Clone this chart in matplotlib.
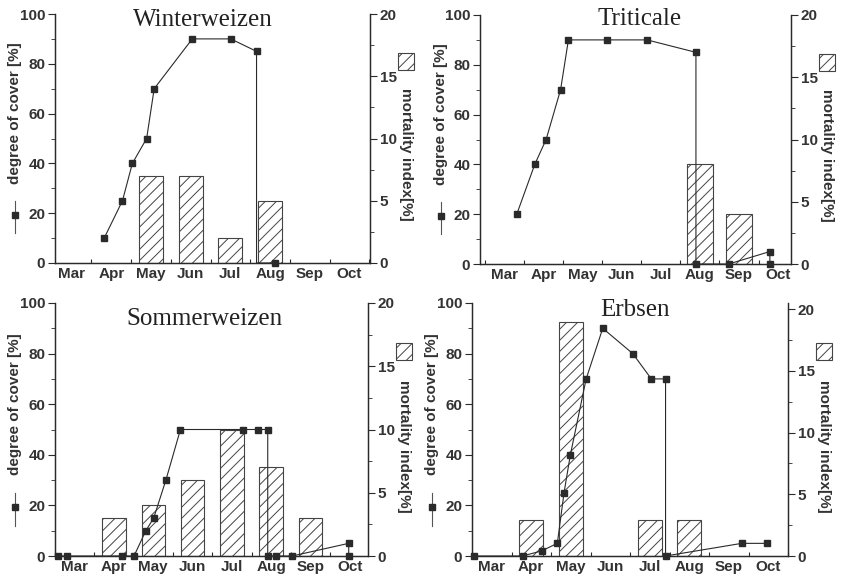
import matplotlib
matplotlib.use('Agg')
import matplotlib.pyplot as plt
from matplotlib.patches import Rectangle
from matplotlib.lines import Line2D
from matplotlib.ticker import MultipleLocator, FixedLocator, NullFormatter

plt.rcParams['hatch.linewidth'] = 0.7

months = ['Mar', 'Apr', 'May', 'Jun', 'Jul', 'Aug', 'Sep', 'Oct']

# degree of cover (line), x in month units (Mar = 0..1)
ww_x = [1.32, 1.78, 2.03, 2.39, 2.58, 3.54, 4.51, 5.16, 5.16, 5.63]
ww_y = [10, 25, 40, 50, 70, 90, 90, 85, 0, 0]
ww_bar_m = [2, 3, 4, 5]
ww_bar_v = [7, 7, 2, 5]

tr_x = [0.82, 1.28, 1.57, 1.94, 2.14, 3.13, 4.15, 5.4, 5.4, 6.24, 7.29, 7.29]
tr_y = [20, 40, 50, 70, 90, 90, 90, 85, 0, 0, 5, 0]
tr_bar_m = [5, 6]
tr_bar_v = [8, 4]

sw_x = [0.07, 0.3, 1.7, 2.01, 2.31, 2.51, 2.82, 3.19, 4.79, 5.17, 5.41, 5.41, 5.61, 6.03, 7.47, 7.47]
sw_y = [0, 0, 0, 0, 10, 15, 30, 50, 50, 50, 50, 0, 0, 0, 5, 0]
sw_bar_m = [1, 2, 3, 4, 5, 6]
sw_bar_v = [3, 4, 6, 10, 7, 3]

er_x = [0.04, 1.28, 1.76, 2.16, 2.33, 2.49, 2.89, 3.31, 4.07, 4.54, 4.9, 4.9, 6.83, 7.48]
er_y = [0, 0, 2, 5, 25, 40, 70, 90, 80, 70, 70, 0, 5, 5]
er_bar_m = [1, 2, 4, 5]
er_bar_v = [2.9, 19, 2.9, 2.9]

W, H = 844, 576
fig = plt.figure(figsize=(W / 100, H / 100), dpi=100)

col = '#2a2a2a'
tick_font = dict(family='Liberation Sans', weight='bold', size=11, color='#333333')


def panel(box, title, tpos, lx, ly, bm, bv, xlim, bw=0.6, rtop=20, skip=None):
    l, r, t, b = box
    ax = fig.add_axes([l / W, (H - b) / H, (r - l) / W, (b - t) / H])
    ax2 = ax.twinx()
    ax.set_zorder(ax2.get_zorder() + 1)
    ax.patch.set_visible(False)

    ax2.bar([m + 0.5 for m in bm], bv, width=bw, color='white', edgecolor='#444444',
            hatch='///', linewidth=0.8)
    marks = [i for i in range(len(lx)) if skip is None or i not in skip]
    ax.plot(lx, ly, color=col, lw=0.8, marker='s', ms=4, markevery=marks, clip_on=False)

    ax.set_xlim(*xlim)
    ax.set_ylim(0, 100)
    ax2.set_ylim(0, rtop)
    ax.yaxis.set_major_locator(MultipleLocator(20))
    ax.yaxis.set_minor_locator(MultipleLocator(10))
    ax2.yaxis.set_major_locator(MultipleLocator(5))
    ax2.yaxis.set_minor_locator(MultipleLocator(2.5))
    ax.xaxis.set_major_locator(FixedLocator(range(0, 9)))
    ax.xaxis.set_major_formatter(NullFormatter())
    ax.xaxis.set_minor_locator(FixedLocator([i + 0.5 for i in range(8)]))
    ax.set_xticklabels(months, minor=True, **tick_font)
    ax.tick_params(axis='x', which='minor', length=0, pad=3)
    ax.tick_params(axis='x', which='major', length=3, direction='in', color=col)

    for a in (ax, ax2):
        for s in a.spines.values():
            s.set_color(col)
            s.set_linewidth(0.9)
        a.spines['top'].set_visible(False)
        a.tick_params(axis='y', which='major', length=5, color=col, pad=2)
        a.tick_params(axis='y', which='minor', length=3, color=col)
    for lab in ax.get_yticklabels() + ax2.get_yticklabels():
        lab.set_fontproperties(matplotlib.font_manager.FontProperties(
            family='Liberation Sans', weight='bold', size=11))
        lab.set_color('#333333')

    ax.text(tpos[0], tpos[1], title, transform=ax.transAxes, ha='center',
            va='baseline', family='Liberation Serif', size=18, color='#222222')

    # left label with line+marker glyph
    ax.text(-0.127, 0.6, 'degree of cover [%]', transform=ax.transAxes, rotation=90,
            ha='center', va='center', family='Liberation Sans', weight='bold',
            size=11, color='#333333')
    ax.add_line(Line2D([-0.127, -0.127], [0.12, 0.25], transform=ax.transAxes,
                       color='#555555', lw=0.8, clip_on=False))
    ax.add_line(Line2D([-0.127], [0.193], transform=ax.transAxes, marker='s', ms=4,
                       color=col, clip_on=False))

    # right label with hatched box
    ax.text(1.115, 0.435, 'mortality index[%]', transform=ax.transAxes, rotation=270,
            ha='center', va='center', family='Liberation Sans', weight='bold',
            size=11, color='#333333')
    ax.add_patch(Rectangle((1.09, 0.775), 0.05, 0.068, transform=ax.transAxes,
                           facecolor='white', edgecolor='#444444', hatch='///',
                           lw=0.8, clip_on=False))
    return ax


panel((55, 370, 14, 263), 'Winterweizen', (0.47, 0.952), ww_x, ww_y, ww_bar_m, ww_bar_v,
      (0.08, 8.02), skip=[8])
panel((480, 791, 15, 264), 'Triticale', (0.514, 0.96), tr_x, tr_y, tr_bar_m, tr_bar_v,
      (-0.12, 7.83), bw=0.67)
panel((55, 368, 303, 556), 'Sommerweizen', (0.476, 0.913), sw_x, sw_y, sw_bar_m, sw_bar_v,
      (0.0, 7.96))
panel((472, 788, 303, 556), 'Erbsen', (0.516, 0.949), er_x, er_y, er_bar_m, er_bar_v,
      (0.0, 8.0), rtop=20.5)

fig.savefig('out.png', dpi=100)
